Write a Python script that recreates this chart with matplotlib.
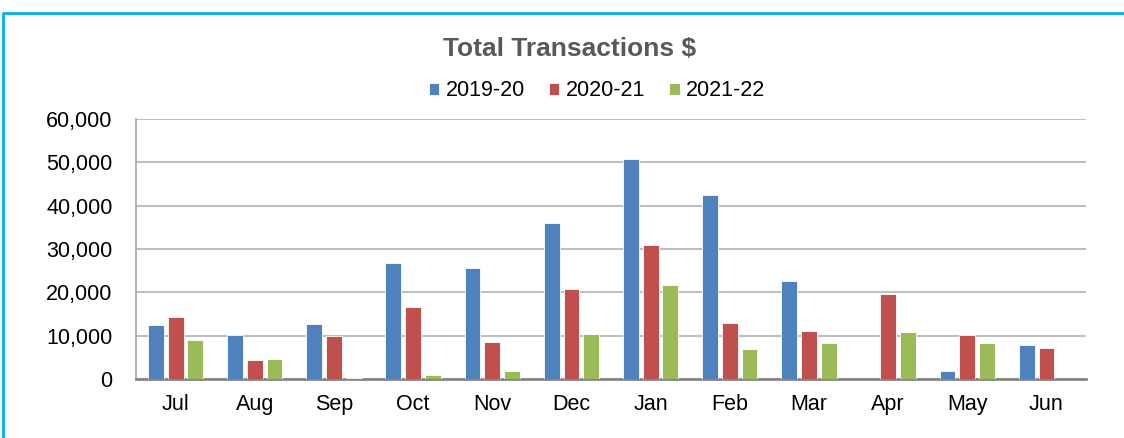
import matplotlib.pyplot as plt
import numpy as np
from matplotlib.lines import Line2D
from matplotlib.ticker import FuncFormatter

plt.rcParams['font.family'] = ['Liberation Sans', 'DejaVu Sans']

months = ['Jul', 'Aug', 'Sep', 'Oct', 'Nov', 'Dec', 'Jan', 'Feb', 'Mar', 'Apr', 'May', 'Jun']
fy1920 = [12500, 10100, 12600, 26800, 25600, 35900, 50800, 42400, 22600, 0, 1800, 7800]
fy2021 = [14250, 4300, 10000, 16550, 8550, 20700, 30950, 12850, 11000, 19550, 10100, 7100]
fy2122 = [8950, 4600, 200, 1000, 1800, 10400, 21600, 6850, 8250, 10800, 8400, 0]
series_names = ['2019-20', '2020-21', '2021-22']
colors = ['#4F81BD', '#C0504D', '#9BBB59']

fig = plt.figure(figsize=(11.24, 4.38), dpi=100)
ax = fig.add_axes([136 / 1124, 1 - 379 / 438, 950 / 1124, 260 / 438])

x = np.arange(len(months))
width = 0.2
for i, (vals, name, c) in enumerate(zip([fy1920, fy2021, fy2122], series_names, colors)):
    ax.bar(x + (i - 1) * 0.25, vals, width, color=c, label=name,
           edgecolor='white', linewidth=0.6, zorder=3)

ax.set_xlim(-0.5, len(months) - 0.5)
ax.set_ylim(0, 60000)
ax.set_yticks(np.arange(0, 60001, 10000))
ax.yaxis.set_major_formatter(FuncFormatter(lambda v, p: f'{int(v):,}'))
ax.set_xticks(x, months)
ax.tick_params(axis='both', length=0, labelsize=15.5, colors='black')
ax.tick_params(axis='x', pad=11)
ax.tick_params(axis='y', pad=17)
ax.grid(axis='y', color='#BFBFBF', linewidth=1.5, zorder=0)

for s in ['top', 'right']:
    ax.spines[s].set_visible(False)
ax.spines['left'].set_color('#A6A6A6')
ax.spines['left'].set_linewidth(1.2)
ax.spines['bottom'].set_color('#868686')
ax.spines['bottom'].set_linewidth(2)

fig.text(570 / 1124, 1 - 49 / 438, 'Total Transactions $', ha='center', va='center',
         fontsize=19, fontweight='bold', color='#595959')
ax.legend(loc='center', bbox_to_anchor=(597 / 1124, 1 - 91 / 438), bbox_transform=fig.transFigure,
          ncol=3, frameon=False, fontsize=15.5, handlelength=0.5, handleheight=0.5,
          handletextpad=0.3, columnspacing=1.1)

# light blue frame (top and left edges visible)
fig.add_artist(Line2D([3 / 1124, 3 / 1124, 1], [0, 1 - 13 / 438, 1 - 13 / 438],
                      transform=fig.transFigure, color='#00B0F0', linewidth=2))

fig.savefig('out.png', dpi=100)
